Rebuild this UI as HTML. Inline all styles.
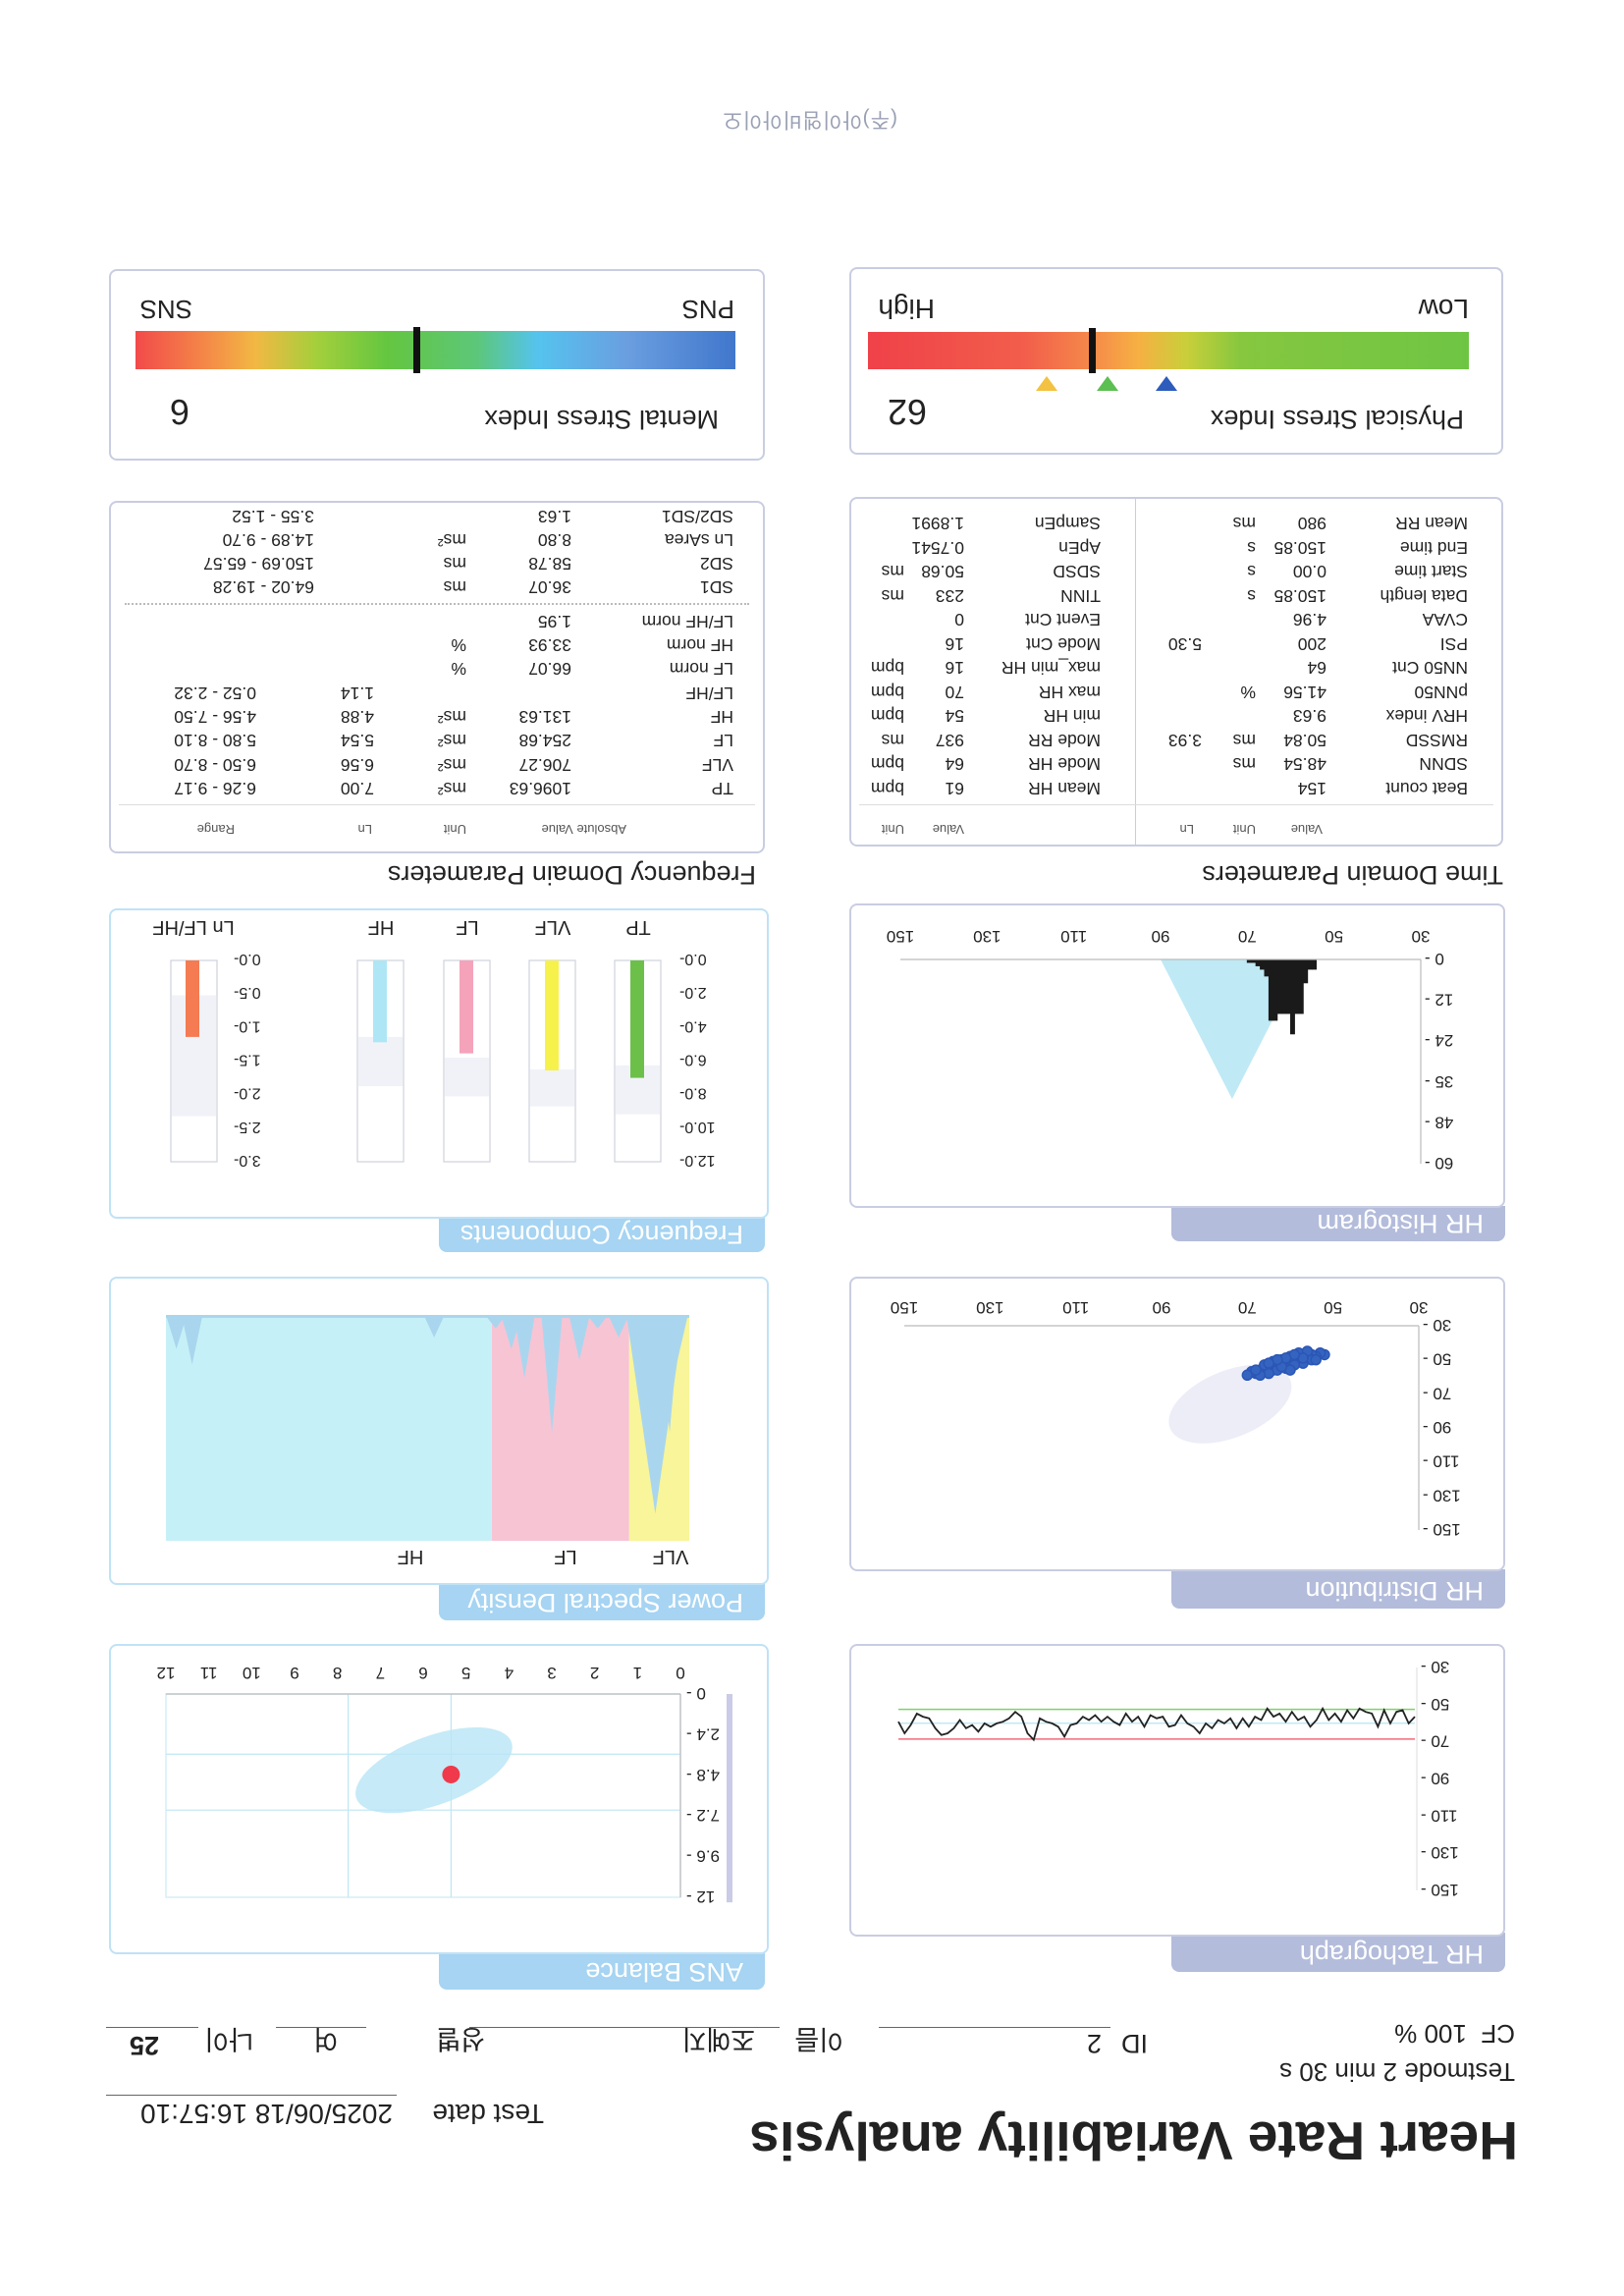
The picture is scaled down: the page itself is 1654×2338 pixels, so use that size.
<!DOCTYPE html>
<html><head><meta charset="utf-8">
<style>
html,body{margin:0;padding:0;background:#fff;}
body{width:1654px;height:2338px;overflow:hidden;font-family:"Liberation Sans","Noto Sans CJK KR",sans-serif;color:#222;}
#page{position:absolute;left:0;top:0;width:1654px;height:2338px;transform:rotate(180deg);transform-origin:827px 1169px;}
.a{position:absolute;white-space:nowrap;}
.box{position:absolute;border:2px solid #c9cde2;border-radius:8px;box-sizing:border-box;background:#fff;}
.boxb{border-color:#bfe2f6;}
.tab{position:absolute;color:#fff;font-size:27px;line-height:36px;padding-left:22px;box-sizing:border-box;border-radius:8px 8px 0 0;}
.tabp{background:#b3bcdb;}
.tabb{background:#a6d4f2;}
.line{position:absolute;height:0;border-top:1.5px solid #666;}
.hdr{font-size:13px;color:#555;}
.row{font-size:17.5px;}
svg text{font-family:"Liberation Sans",sans-serif;}
</style></head>
<body>
<div id="page">

<div class="a" style="left:108px;top:126px;font-size:55px;font-weight:bold;">Heart Rate Variability analysis</div>
<div class="a" style="left:1100px;top:170px;font-size:28px;">Test date</div>
<div class="a" style="left:1254px;top:170px;font-size:28px;">2025/06/18 16:57:10</div>
<div class="line" style="left:1250px;top:204px;width:296px;"></div>
<div class="a" style="left:111px;top:213px;font-size:26px;">Testmode 2 min 30 s</div>
<div class="a" style="left:111px;top:252px;font-size:26px;">CF&nbsp;&nbsp;100 %</div>
<div class="a" style="left:485px;top:242px;font-size:27px;">ID</div>
<div class="a" style="left:532px;top:242px;font-size:27px;">2</div>
<div class="line" style="left:523px;top:273px;width:236px;"></div>
<div class="a" style="left:795px;top:240px;font-size:27px;">이름</div>
<div class="a" style="left:885px;top:240px;font-size:27px;">조예지</div>
<div class="line" style="left:860px;top:273px;width:316px;"></div>
<div class="a" style="left:1160px;top:240px;font-size:27px;">성별</div>
<div class="a" style="left:1310px;top:240px;font-size:27px;">여</div>
<div class="line" style="left:1281px;top:273px;width:92px;"></div>
<div class="a" style="left:1396px;top:240px;font-size:27px;">나이</div>
<div class="a" style="left:1492px;top:240px;font-size:27px;font-weight:bold;">25</div>
<div class="line" style="left:1452px;top:273px;width:94px;"></div>

<!-- chart panels -->
<div class="tab tabb" style="left:875px;top:312px;width:332px;height:38px;">ANS Balance</div>
<div class="box boxb" style="left:871px;top:348px;width:672px;height:316px;"></div>
<div class="tab tabb" style="left:875px;top:688px;width:332px;height:38px;">Power Spectral Density</div>
<div class="box boxb" style="left:871px;top:724px;width:672px;height:314px;"></div>
<div class="tab tabb" style="left:875px;top:1063px;width:332px;height:36px;">Frequency Components</div>
<div class="box boxb" style="left:871px;top:1097px;width:672px;height:316px;"></div>

<div class="tab tabp" style="left:121px;top:330px;width:340px;height:40px;">HR Tachograph</div>
<div class="box" style="left:121px;top:366px;width:668px;height:298px;"></div>
<div class="tab tabp" style="left:121px;top:700px;width:340px;height:40px;">HR Distribution</div>
<div class="box" style="left:121px;top:738px;width:668px;height:300px;"></div>
<div class="tab tabp" style="left:121px;top:1074px;width:340px;height:36px;">HR Histogram</div>
<div class="box" style="left:121px;top:1108px;width:668px;height:310px;"></div>

<!-- tables -->
<div class="a" style="left:123px;top:1432px;font-size:27px;">Time Domain Parameters</div>
<div class="box" style="left:123px;top:1476px;width:666px;height:356px;">
  <div style="position:absolute;left:372px;top:0;bottom:0;border-left:1.5px solid #c9cde2;"></div>
  <div style="position:absolute;left:8px;right:8px;top:40px;border-top:1px solid #ddd;"></div>
</div>
<div class="a" style="left:884px;top:1432px;font-size:27px;">Frequency Domain Parameters</div>
<div class="box" style="left:875px;top:1469px;width:668px;height:359px;">
  <div style="position:absolute;left:8px;right:8px;top:47px;border-top:1px solid #ddd;"></div>
  <div style="position:absolute;left:14px;right:14px;top:251px;border-top:2px dotted #bbb;"></div>
</div>
<div id="tables"></div>

<!-- stress -->
<div class="box" style="left:123px;top:1875px;width:666px;height:191px;"></div>
<div class="a" style="left:163px;top:1896px;font-size:27px;">Physical Stress Index</div>
<div class="a" style="left:710px;top:1898px;font-size:36px;">62</div>
<div class="a" style="left:158px;top:1962px;width:612px;height:38px;background:linear-gradient(90deg,#6ec544 0%,#86c73f 38%,#c9cf3a 47%,#f6b043 55%,#f5884a 63%,#f25e4b 74%,#ef4149 100%);"></div>
<div class="a" style="left:538px;top:1958px;width:7px;height:46px;background:#111;"></div>
<svg class="a" style="left:0;top:0;" width="1654" height="2338">
  <polygon points="455,1940 477,1940 466,1955" fill="#2d5cbc"/>
  <polygon points="515,1940 537,1940 526,1955" fill="#5cbf52"/>
  <polygon points="577,1940 599,1940 588,1955" fill="#f3c242"/>
</svg>
<div class="a" style="left:158px;top:2008px;font-size:28px;">Low</div>
<div class="a" style="left:702px;top:2008px;font-size:28px;">High</div>

<div class="box" style="left:875px;top:1869px;width:668px;height:195px;"></div>
<div class="a" style="left:922px;top:1896px;font-size:27px;">Mental Stress Index</div>
<div class="a" style="left:1461px;top:1898px;font-size:36px;">6</div>
<div class="a" style="left:905px;top:1962px;width:611px;height:39px;background:linear-gradient(90deg,#4177cc 0%,#6a9ee0 18%,#55c3ee 33%,#5cc77a 43%,#64c640 58%,#a5cf3c 70%,#f2b843 80%,#f48a48 88%,#f24a4a 100%);"></div>
<div class="a" style="left:1226px;top:1958px;width:7px;height:47px;background:#111;"></div>
<div class="a" style="left:906px;top:2008px;font-size:26px;">PNS</div>
<div class="a" style="left:1458px;top:2008px;font-size:26px;">SNS</div>

<div class="a" style="left:740px;top:2200px;font-size:21px;letter-spacing:1px;color:#9aa0b4;">(주)아이엠비아이오</div>

<svg id="charts" class="a" style="left:0;top:0;" width="1654" height="2338"></svg>
</div>

<script>
// ---------- table data ----------
const tdLeftLabels=["Beat count","SDNN","RMSSD","HRV index","pNN50","NN50 Cnt","PSI","CVAA","Data length","Start time","End time","Mean RR"];
const tdLeftValues=["154","48.54","50.84","9.63","41.56","64","200","4.96","150.85","0.00","150.85","980"];
const tdLeftUnits=["","ms","ms","","%","","","","s","s","s","ms"];
const tdLeftLn=["","","3.93","","","","5.30","","","","",""];
const tdRightLabels=["Mean HR","Mode HR","Mode RR","min HR","max HR","max_min HR","Mode Cnt","Event Cnt","TINN","SDSD","ApEn","SampEn"];
const tdRightValues=["61","64","937","54","70","16","16","0","233","50.68","0.7541","1.8991"];
const tdRightUnits=["bpm","bpm","ms","bpm","bpm","bpm","","","ms","ms","",""];
const fdLabels=["TP","VLF","LF","HF","LF/HF","LF norm","HF norm","LF/HF norm"];
const fdValues=["1096.63","706.27","254.68","131.63","","66.07","33.93","1.95"];
const fdUnits=["ms²","ms²","ms²","ms²","","%","%",""];
const fdLn=["7.00","6.56","5.54","4.88","1.14","","",""];
const fdRange=["6.26 - 9.17","6.50 - 8.70","5.80 - 8.10","4.56 - 7.50","0.52 - 2.32","","",""];
const sdLabels=["SD1","SD2","Ln sArea","SD2/SD1"];
const sdValues=["36.07","58.78","8.80","1.63"];
const sdUnits=["ms","ms","ms²",""];
const sdRange=["64.02 - 19.28","150.69 - 65.57","14.89 - 9.70","3.55 - 1.52"];

const T=document.getElementById('tables');
function cell(txt,x,y,cls,name){
  const d=document.createElement('div');
  d.className='a '+cls;
  d.style.left=x+'px';d.style.top=y+'px';
  d.textContent=txt;
  
  
  T.appendChild(d);
}
cell("Value",307,1486,'hdr','time-header-value');
cell("Unit",375,1486,'hdr','time-header-unit');
cell("Ln",438,1486,'hdr','time-header-ln');
cell("Value",672,1486,'hdr','time-header-value-2');
cell("Unit",733,1486,'hdr','time-header-unit-2');
for(let i=0;i<12;i++){
  const y=1525+i*24.5;
  cell(tdLeftLabels[i],159,y,'row','time-label');
  cell(tdLeftValues[i],303,y,'row','time-value');
  cell(tdLeftUnits[i],375,y,'row','time-unit');
  cell(tdLeftLn[i],430,y,'row','time-ln');
  cell(tdRightLabels[i],533,y,'row','time-label-2');
  cell(tdRightValues[i],672,y,'row','time-value-2');
  cell(tdRightUnits[i],733,y,'row','time-unit-2');
}
cell("Absolute Value",1016,1486,'hdr','freq-header-value');
cell("Unit",1179,1486,'hdr','freq-header-unit');
cell("Ln",1275,1486,'hdr','freq-header-ln');
cell("Range",1415,1486,'hdr','freq-header-range');
for(let i=0;i<8;i++){
  const y=1525+i*24.3;
  cell(fdLabels[i],907,y,'row','freq-label');
  cell(fdValues[i],1072,y,'row','freq-value');
  cell(fdUnits[i],1179,y,'row','freq-unit');
  cell(fdLn[i],1273,y,'row','freq-ln');
  cell(fdRange[i],1393,y,'row','freq-range');
}
for(let i=0;i<4;i++){
  const y=1730+i*24;
  cell(sdLabels[i],907,y,'row','poincare-label');
  cell(sdValues[i],1072,y,'row','poincare-value');
  cell(sdUnits[i],1179,y,'row','poincare-unit');
  cell(sdRange[i],1334,y,'row','poincare-range');
}

// ---------- chart data ----------
const fcCategories=["TP","VLF","LF","HF"];
const fcValues=[7.00,6.56,5.54,4.88];
const fcRangeLow=[6.26,6.50,5.80,4.56];
const fcRangeHigh=[9.17,8.70,8.10,7.50];
const fcColors=["#6cc04a","#f7f14c","#f5a3bb","#aee6f5"];
const fcTicks=[0,2,4,6,8,10,12];
const lfhfValue=1.14;
const lfhfRange=[0.52,2.32];
const lfhfTicks=[0,0.5,1.0,1.5,2.0,2.5,3.0];

const psdBandEdges=[0,0.046,0.151,0.4];
const psdBandNames=["VLF","LF","HF"];
const psdSpikeFreq=[0.009,0.015,0.026,0.038,0.054,0.070,0.084,0.105,0.126,0.136,0.148,0.195,0.380,0.392];
const psdSpikeDepth=[0.20,0.52,0.88,0.12,0.10,0.06,0.20,0.52,0.28,0.15,0.06,0.10,0.22,0.15];

const ansXTicks=[0,1,2,3,4,5,6,7,8,9,10,11,12];
const ansYTicks=["0","2.4","4.8","7.2","9.6","12"];
const ansGridX=[5.35,7.75];
const ansGridY=[3.55,6.85];
const ansPoint=[5.35,4.75];

const histBins=[54,55,56,57,58,59,60,61,62,63,64,65,66,67,68,69];
const histCounts=[3,3,7,16,16,22,16,16,16,18,18,5,3,2,1,1];
const histXTicks=[30,50,70,90,110,130,150];
const histYTickVals=[0,12,24,36,48,60];
const histYTickLabels=["0","12","24","35","48","60"];
const histNormal=[57,90,73.5,41];

const distX=[52,53,54,55,56,57,57,58,58,59,59,60,60,61,61,62,62,63,63,64,64,65,65,66,66,67,68,69,70,55,57,59,61,63,65,58,60,62,64,66,56,54,67,60,62,57,59,61,63,65,68];
const distY=[47,46,48,47,49,47,50,48,51,49,52,50,52,51,53,51,54,52,55,53,56,54,57,55,57,56,58,57,59,50,52,53,55,56,58,46,48,50,51,53,45,50,59,56,54,49,47,49,50,52,56];
const distTicks=[30,50,70,90,110,130,150];

const tachoHR=[56.5,60.1,53.0,53.9,60.1,53.0,61.9,54.8,53.9,52.1,57.4,53.0,59.2,54.8,58.3,52.1,58.3,61.9,56.5,58.3,53.9,59.2,54.8,56.5,52.1,58.3,56.5,61.9,57.4,62.7,57.4,60.1,58.3,62.7,60.1,65.4,61.9,60.1,55.7,61.0,61.9,56.5,57.4,55.7,61.9,56.5,59.2,54.8,61.0,59.2,56.5,59.2,55.7,58.3,56.5,60.1,61.0,67.2,61.9,60.1,59.2,57.4,68.9,65.4,56.5,53.9,57.4,59.2,60.1,61.9,60.1,64.5,61.0,62.7,58.3,62.7,65.4,66.3,62.7,57.4,56.5,54.8,61.0,65.4,59.2];
const tachoRefLines=[52.5,60,68.5];
const tachoTicks=[30,50,70,90,110,130,150];

// ---------- drawing ----------
const S=document.getElementById('charts');
const NS='http://www.w3.org/2000/svg';
function mk(tag,attrs){const e=document.createElementNS(NS,tag);for(const k in attrs)e.setAttribute(k,attrs[k]);S.appendChild(e);return e;}
function txt(s,x,y,size,anchor){const e=mk('text',{x:x,y:y,'font-size':size,'text-anchor':anchor||'middle',fill:'#222'});e.textContent=s;return e;}

// Frequency components
const fcY=v=>1360-v/12*205;
const lfY=v=>1360-v/3*205;
const fcColX=[981,1068,1155,1243];
fcTicks.forEach(t=>{const e=txt(t.toFixed(1)+'-',962,fcY(t)+6,16,'end');

});
lfhfTicks.forEach(t=>{const e=txt(t.toFixed(1)+'-',1416,lfY(t)+6,16,'end');

});
fcCategories.forEach((c,i)=>{
  const x=fcColX[i];
  const col=mk('rect',{x:x,y:fcY(12),width:47,height:fcY(0)-fcY(12),fill:'#fff',stroke:'#cfd2dc','stroke-width':1.2});
  
  
  const band=mk('rect',{x:x+1,y:fcY(fcRangeHigh[i]),width:45,height:fcY(fcRangeLow[i])-fcY(fcRangeHigh[i]),fill:'#f1f2f8'});
  
  
  const bar=mk('rect',{x:x+17,y:fcY(fcValues[i]),width:14,height:fcY(0)-fcY(fcValues[i]),fill:fcColors[i]});
  
  
  const l=txt(c,x+23,1400,20);
  
  
});
{
  const x=1433;
  const col=mk('rect',{x:x,y:lfY(3),width:47,height:lfY(0)-lfY(3),fill:'#fff',stroke:'#cfd2dc','stroke-width':1.2});
  
  
  const band=mk('rect',{x:x+1,y:lfY(lfhfRange[1]),width:45,height:lfY(lfhfRange[0])-lfY(lfhfRange[1]),fill:'#f1f2f8'});
  
  
  const bar=mk('rect',{x:x+18,y:lfY(lfhfValue),width:14,height:lfY(0)-lfY(lfhfValue),fill:'#f47b52'});
  
  
  const l=txt('Ln LF/HF',1457,1400,20);
  
  
}

// PSD
const psdX=f=>952+f/0.4*533;
const psdTop=769,psdBot=999,psdH=psdBot-psdTop;
const psdColors=["#f8f59a","#f7c4d4","#c6f0f7"];
psdBandNames.forEach((n,i)=>{
  const r=mk('rect',{x:psdX(psdBandEdges[i]),y:psdTop,width:psdX(psdBandEdges[i+1])-psdX(psdBandEdges[i]),height:psdH,fill:psdColors[i]});
  
  
  const l=txt(n,i===2?1236:(i===0?971:1078),759,20);
  
  
});
psdSpikeFreq.forEach((f,i)=>{
  const w=i===2?0.022:0.008;
  const p=mk('polygon',{points:`${psdX(f-w)},${psdBot} ${psdX(f+w)},${psdBot} ${psdX(f)},${psdBot-psdSpikeDepth[i]*psdH}`,fill:'#a9d6ee'});
  
  
});
{const b=mk('rect',{x:psdX(0),y:psdBot-3,width:psdX(0.4)-psdX(0),height:3,fill:'#a9d6ee'});

}

// ANS balance
const ansX=v=>961+v/12*524;
const ansY=v=>613-v/12*207;
{const fr=mk('rect',{x:ansX(0),y:ansY(12),width:ansX(12)-ansX(0),height:ansY(0)-ansY(12),fill:'none',stroke:'#d6eef8','stroke-width':1.5});


const pb=mk('rect',{x:908,y:ansY(12.3),width:6,height:ansY(0)-ansY(12.3),fill:'#cacbe6'});

}
ansGridX.forEach(g=>{const l=mk('line',{x1:ansX(g),x2:ansX(g),y1:ansY(0),y2:ansY(12),stroke:'#bfe6f4','stroke-width':1.2});

});
ansGridY.forEach(g=>{const l=mk('line',{x1:ansX(0),x2:ansX(12),y1:ansY(g),y2:ansY(g),stroke:'#bfe6f4','stroke-width':1.2});

});
{const e=mk('ellipse',{cx:ansX(5.75),cy:ansY(4.5),rx:84,ry:35,fill:'#b8e5f5',opacity:0.8,transform:`rotate(-20 ${ansX(5.75)} ${ansY(4.5)})`});


const ax=mk('line',{x1:ansX(0),x2:ansX(12),y1:ansY(0),y2:ansY(0),stroke:'#bbb','stroke-width':1.2});


const ay=mk('line',{x1:ansX(0),x2:ansX(0),y1:ansY(0),y2:ansY(12),stroke:'#bbb','stroke-width':1.2});

}
ansXTicks.forEach(t=>{const e=txt(String(t),ansX(t),640,17);

});
ansYTicks.forEach((t,i)=>{const e=txt(t+' -',955,ansY(i*2.4)+6,17,'end');

});
{const d=mk('circle',{cx:ansX(ansPoint[0]),cy:ansY(ansPoint[1]),r:9,fill:'#f0394a'});

}

// HR histogram
const hX=v=>207+(v-30)/120*530;
const hY=v=>1361-v/60*208;
{const t=mk('polygon',{points:`${hX(histNormal[0])},${hY(0)} ${hX(histNormal[1])},${hY(0)} ${hX(histNormal[2])},${hY(histNormal[3])}`,fill:'#bfe9f5'});

}
histBins.forEach((b,i)=>{
  const r=mk('rect',{x:hX(b),y:hY(histCounts[i]),width:hX(b+1)-hX(b)+0.5,height:hY(0)-hY(histCounts[i]),fill:'#1a1a1a'});
  
  
});
{const ax=mk('line',{x1:hX(30),x2:hX(150),y1:hY(0),y2:hY(0),stroke:'#bbb','stroke-width':1.2});


const ay=mk('line',{x1:hX(30),x2:hX(30),y1:hY(0),y2:hY(60),stroke:'#bbb','stroke-width':1.2});

}
histXTicks.forEach(t=>{const e=txt(String(t),hX(t),1390,17);

});
histYTickVals.forEach((v,i)=>{const e=txt(histYTickLabels[i]+' -',203,hY(v)+6,17,'end');

});

// HR distribution
const dX=v=>209+(v-30)/120*524;
const dY=v=>988-(v-30)/120*208;
{const e=mk('ellipse',{cx:dX(74),cy:dY(76),rx:66,ry:34,fill:'#ecedf6',transform:`rotate(-22 ${dX(74)} ${dY(76)})`});

}
distX.forEach((x,i)=>{
  const c=mk('circle',{cx:dX(x),cy:dY(distY[i]),r:5,fill:'#3564c0',stroke:'#2a56b5','stroke-width':1.5});
  
  
});
{const ax=mk('line',{x1:dX(30),x2:dX(150),y1:dY(30),y2:dY(30),stroke:'#bbb','stroke-width':1.2});


const ay=mk('line',{x1:dX(30),x2:dX(30),y1:dY(30),y2:dY(150),stroke:'#bbb','stroke-width':1.2});

}
distTicks.forEach(t=>{
  const e=txt(String(t),dX(t),1012,17);
  
  
  const f=txt(t+' -',205,dY(t)+6,17,'end');
  
  
});

// HR tachograph
const tX=i=>213+i/(tachoHR.length-1)*526;
const tY=v=>640-(v-30)/120*227;
{const ay=mk('line',{x1:211,x2:211,y1:tY(30),y2:tY(150),stroke:'#ddd','stroke-width':1});

}
const refColors=["#7fd06a","#bfe9f5","#f06a7a"];
tachoRefLines.forEach((v,i)=>{const l=mk('line',{x1:213,x2:739,y1:tY(v),y2:tY(v),stroke:refColors[i],'stroke-width':1.5});

});
{const pts=tachoHR.map((v,i)=>tX(i).toFixed(1)+','+tY(v).toFixed(1)).join(' ');
const pl=mk('polyline',{points:pts,fill:'none',stroke:'#222','stroke-width':1.8});

}
tachoTicks.forEach(t=>{const e=txt(t+' -',207,tY(t)+6,17,'end');

});
</script>
</body></html>
